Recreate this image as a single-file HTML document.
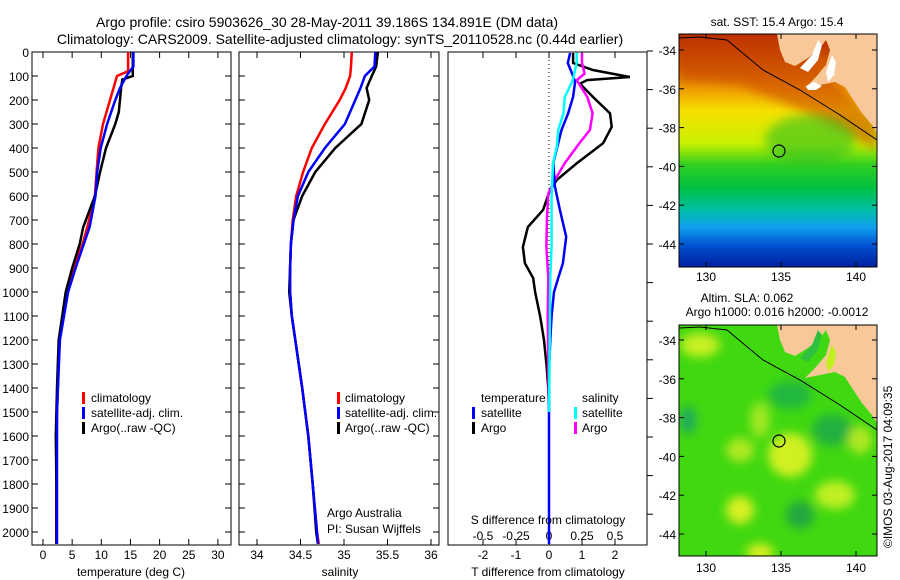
<!DOCTYPE html>
<html><head><meta charset="utf-8">
<style>
body{margin:0;background:#fff;}
svg{display:block;font-family:"Liberation Sans",sans-serif;}
text{fill:#000;}
</style></head>
<body>
<svg id="fig" width="900" height="580" viewBox="0 0 900 580">
<defs>
<linearGradient id="sstGrad" x1="0" y1="0" x2="0" y2="1">
<stop offset="0" stop-color="#b02000"/>
<stop offset="0.12" stop-color="#d05a00"/>
<stop offset="0.24" stop-color="#f0a000"/>
<stop offset="0.33" stop-color="#f6e000"/>
<stop offset="0.47" stop-color="#c8f000"/>
<stop offset="0.56" stop-color="#30d020"/>
<stop offset="0.66" stop-color="#00c040"/>
<stop offset="0.75" stop-color="#00c0a0"/>
<stop offset="0.83" stop-color="#10a0f0"/>
<stop offset="0.91" stop-color="#0050d0"/>
<stop offset="1" stop-color="#0020a0"/>
</linearGradient>
<filter id="blur6"><feGaussianBlur stdDeviation="5"/></filter>
<clipPath id="clipM1"><rect x="679" y="34" width="198" height="233"/></clipPath>
<clipPath id="clipM2"><rect x="679" y="325" width="198" height="231"/></clipPath>
</defs>

<text x="327" y="27" font-size="14" text-anchor="middle">Argo profile: csiro 5903626_30 28-May-2011 39.186S 134.891E (DM data)</text>
<text x="340" y="44" font-size="14" text-anchor="middle">Climatology: CARS2009. Satellite-adjusted climatology: synTS_20110528.nc (0.44d earlier)</text>

<g id="p1"></g>
<g id="p2"></g>
<g id="p3"></g>

<!-- Map 1 SST -->
<g>
<g clip-path="url(#clipM1)">
<rect x="679" y="34" width="198" height="233" fill="url(#sstGrad)"/>
<path d="M679,30 L780,30 L877,120 L877,150 L800,110 L740,85 L679,80Z" fill="#c84000" opacity="0.55" filter="url(#blur6)"/>
<ellipse cx="810" cy="140" rx="45" ry="25" fill="#30c020" opacity="0.6" filter="url(#blur6)"/>
<polygon points="777,34 780,50 785,62 795,66 808,58 820,48 826,40 830,50 826,65 815,78 805,88 820,85 835,82 845,87 852,98 862,113 872,125 877,133 877,34" fill="#f8c898"/>
<polygon points="800,68 812,55 818,40 822,45 818,60 808,72" fill="#fff"/>
<polygon points="826,72 832,55 836,62 834,75 828,82" fill="#fff"/>
<polygon points="806,86 814,82 822,86 816,90 808,90" fill="#fff"/>
<polyline points="679,38 700,37 727,40 745,55 763,70 800,90 840,115 877,140" fill="none" stroke="#000" stroke-width="1"/>
<circle cx="779" cy="151" r="6" fill="none" stroke="#000" stroke-width="1.2"/>
</g>
<rect x="679" y="34" width="198" height="233" fill="none" stroke="#000"/>
<text x="777" y="26" font-size="12" text-anchor="middle">sat. SST: 15.4 Argo: 15.4</text>
</g>

<!-- Map 2 SLA -->
<g>
<g clip-path="url(#clipM2)">
<rect x="679" y="325" width="198" height="231" fill="#40d810"/>
<g filter="url(#blur6)">
<ellipse cx="700" cy="345" rx="20" ry="12" fill="#c8f020"/>
<ellipse cx="790" cy="455" rx="22" ry="22" fill="#d0f020"/>
<ellipse cx="740" cy="450" rx="14" ry="12" fill="#b0e820"/>
<ellipse cx="740" cy="510" rx="14" ry="14" fill="#d8f020"/>
<ellipse cx="835" cy="495" rx="20" ry="14" fill="#c0f020"/>
<ellipse cx="760" cy="420" rx="10" ry="18" fill="#a0e820"/>
<ellipse cx="790" cy="395" rx="22" ry="14" fill="#20b840"/>
<ellipse cx="832" cy="430" rx="20" ry="16" fill="#20b040"/>
<ellipse cx="800" cy="515" rx="14" ry="14" fill="#20a840"/>
<ellipse cx="688" cy="420" rx="8" ry="14" fill="#20a860"/>
<ellipse cx="760" cy="552" rx="14" ry="8" fill="#e0f020"/>
<ellipse cx="860" cy="440" rx="12" ry="14" fill="#b0e820"/>
</g>
<polygon points="777,325 780,340 785,352 795,356 808,348 820,338 826,330 830,340 826,355 815,368 805,378 820,375 835,372 845,377 852,388 862,403 872,415 877,423 877,325" fill="#f8c898"/>
<polygon points="800,358 812,345 818,330 822,335 818,350 808,362" fill="#30c040"/>
<polygon points="826,362 832,345 836,352 834,365 828,372" fill="#c0f020"/>
<polyline points="679,328 700,327 727,330 745,345 763,360 800,380 840,405 877,430" fill="none" stroke="#000" stroke-width="1"/>
<circle cx="779" cy="441" r="6" fill="none" stroke="#000" stroke-width="1.2"/>
</g>
<rect x="679" y="325" width="198" height="231" fill="none" stroke="#000"/>
<text x="747" y="302" font-size="12" text-anchor="middle">Altim. SLA: 0.062</text>
<text x="777" y="316" font-size="12" text-anchor="middle">Argo h1000: 0.016 h2000: -0.0012</text>
<text transform="translate(892,548) rotate(-90)" font-size="12">©IMOS 03-Aug-2017 04:09:35</text>
</g>
<g id="maxes"></g>
</svg>
<script>
// ---- data ----
const depthTicks=[0,100,200,300,400,500,600,700,800,900,1000,1100,1200,1300,1400,1500,1600,1700,1800,1900,2000];
const tTicks=[0,5,10,15,20,25,30];
const sTicks=[34,34.5,35,35.5,36];
const tdTicks=[-2,-1,0,1,2];
const sdTickLabels=["-0.5","-0.25","0","0.25","0.5"];
const sdTicks=[-0.5,-0.25,0,0.25,0.5];

const climDepth=[0,80,100,200,300,400,500,600,730,800,900,1000,1200,1500,1800,2050];
const climT=[14.6,14.6,12.7,11.5,10.3,9.5,9.2,8.9,7.6,6.8,5.3,4.0,2.8,2.4,2.3,2.3];
const satDepth=[0,60,100,150,200,300,400,500,600,730,800,900,1000,1200,1500,2050];
const satT=[15.5,15.5,14.3,13.2,12.4,11.0,9.9,9.3,9.0,8.0,7.0,5.6,4.3,2.9,2.4,2.4];
const argoDepth=[0,100,115,150,250,300,400,500,600,730,800,900,1000,1100,1200,1400,1600,1800,2050];
const argoT=[15.4,15.4,13.6,13.4,13.0,12.4,10.8,9.8,8.9,6.9,6.3,5.0,3.9,3.3,2.7,2.4,2.2,2.3,2.3];

const sDepth=[0,60,100,150,200,300,400,500,600,700,800,900,1000,1100,1200,1400,1600,1800,2000,2050];
const climS=[35.09,35.08,35.07,35.02,34.95,34.78,34.63,34.53,34.45,34.41,34.39,34.38,34.38,34.40,34.44,34.52,34.59,34.64,34.69,34.71];
const satS=[35.36,35.35,35.24,35.19,35.13,35.01,34.78,34.59,34.47,34.42,34.39,34.38,34.38,34.40,34.44,34.52,34.59,34.64,34.69,34.70];
const argoS=[35.39,35.37,35.32,35.26,35.29,35.20,34.90,34.67,34.52,34.42,34.39,34.38,34.37,34.40,34.44,34.52,34.59,34.64,34.68,34.70];

const dTDepth=[4,46,75,104,117,132,187,256,312,380,463,533,575,658,729,812,880,942,1000,1100,1200,1300,1400,1500];
const dTArgo=[0.73,0.73,1.33,2.45,1.15,0.94,1.33,1.85,1.9,1.64,0.85,0.24,0.03,-0.18,-0.64,-0.79,-0.73,-0.48,-0.42,-0.27,-0.15,-0.08,-0.02,0];
const dTSatDepth=[4,46,90,125,187,256,325,463,560,658,770,880,942,1000,1100,1200,1300,1500,2050];
const dTSat=[0.64,0.57,0.7,0.79,0.73,0.58,0.38,0.13,0.18,0.33,0.52,0.42,0.28,0.15,0.08,0.04,0.01,0,0];
const dSDepth=[4,46,90,117,187,256,325,380,463,533,590,686,812,942,1100,1300,1500];
const dSArgo=[0.25,0.25,0.27,0.21,0.29,0.33,0.31,0.23,0.12,0.045,-0.005,-0.015,-0.02,-0.005,-0.01,-0.005,0];
const dSSatDepth=[4,46,117,187,256,325,394,463,600,800,942,1200,1500];
const dSSat=[0.21,0.21,0.18,0.12,0.11,0.07,0.06,0.03,0.02,0.02,0.01,0.005,0];

const latTicks=[-34,-36,-38,-40,-42,-44];
const lonTicks=[130,135,140];

// ---- axes ----
const NS='http://www.w3.org/2000/svg';
function mk(tag,attrs,parent){const e=document.createElementNS(NS,tag);for(const k in attrs)e.setAttribute(k,attrs[k]);parent.appendChild(e);return e;}
const yD=d=>52+d*0.24;
const xT=t=>43+t*5.83;
const xS=s=>257+(s-34)*87;
const xDT=t=>549+t*33;
const xDS=s=>549+s*132;
const TOP=52,BOT=545;

function frame(g,x0,x1){
  const r=mk('rect',{x:x0,y:TOP,width:x1-x0,height:BOT-TOP,fill:'none',stroke:'#000','stroke-width':1},g);
  
  
}
function yTicks(g,x0,x1,labels){
  depthTicks.forEach(d=>{
    const y=yD(d);
    mk('line',{x1:x0,x2:x0+6,y1:y,y2:y,stroke:'#000'},g);
    mk('line',{x1:x1-6,x2:x1,y1:y,y2:y,stroke:'#000'},g);
    if(labels){const t=mk('text',{x:x0-3,y:y+5,'font-size':12,'text-anchor':'end'},g);t.textContent=d;
      
      }
  });
}
function xTicks(g,ticks,fx,labels,ly){
  ticks.forEach((v,i)=>{
    const x=fx(v);
    mk('line',{x1:x,x2:x,y1:BOT-6,y2:BOT,stroke:'#000'},g);
    mk('line',{x1:x,x2:x,y1:TOP,y2:TOP+6,stroke:'#000'},g);
    const t=mk('text',{x:x,y:ly,'font-size':12,'text-anchor':'middle'},g);t.textContent=labels?labels[i]:v;
    
    
  });
}
function line(g,xs,ds,fx,color,name){
  const pts=xs.map((v,i)=>fx(v).toFixed(1)+','+yD(ds[i]).toFixed(1)).join(' ');
  const p=mk('polyline',{points:pts,fill:'none',stroke:color,'stroke-width':2.5,'stroke-linejoin':'miter'},g);
  
  
}
function label(g,x,y,txt,name,anchor){
  const t=mk('text',{x:x,y:y,'font-size':12,'text-anchor':anchor||'start'},g);t.textContent=txt;
  
  
}
function legendBar(g,x,y,color){
  const r=mk('rect',{x:x,y:y-10,width:3,height:12,fill:color},g);
  
  
}

// Panel 1
const p1=document.getElementById('p1');
frame(p1,32,231);yTicks(p1,32,231,true);xTicks(p1,tTicks,xT,null,559);
line(p1,climT,climDepth,xT,'#f00','temp-climatology-line');
line(p1,argoT,argoDepth,xT,'#000','temp-argo-line');
line(p1,satT,satDepth,xT,'#00f','temp-satellite-line');
label(p1,131,576,'temperature (deg C)','temperature-axis-title','middle');
legendBar(p1,82,402,'#f00');label(p1,91,402,'climatology','legend-climatology');
legendBar(p1,82,417,'#00f');label(p1,91,417,'satellite-adj. clim.','legend-satellite');
legendBar(p1,82,432,'#000');label(p1,91,432,'Argo(..raw -QC)','legend-argo');

// Panel 2
const p2=document.getElementById('p2');
frame(p2,239,439);yTicks(p2,239,439,false);xTicks(p2,sTicks,xS,null,559);
line(p2,climS,sDepth,xS,'#f00','sal-climatology-line');
line(p2,argoS,sDepth,xS,'#000','sal-argo-line');
line(p2,satS,sDepth,xS,'#00f','sal-satellite-line');
label(p2,340,576,'salinity','salinity-axis-title','middle');
legendBar(p2,337,402,'#f00');label(p2,345,402,'climatology','legend-climatology');
legendBar(p2,337,417,'#00f');label(p2,345,417,'satellite-adj. clim.','legend-satellite');
legendBar(p2,337,432,'#000');label(p2,345,432,'Argo(..raw -QC)','legend-argo');
label(p2,327,517,'Argo Australia','pi-institution');
label(p2,327,533,'PI: Susan Wijffels','pi-name');

// Panel 3
const p3=document.getElementById('p3');
frame(p3,448,647);
for(let y=51;y<=BOT;y+=38.6){mk('line',{x1:647,x2:653,y1:y,y2:y,stroke:'#000'},p3);}
mk('line',{x1:549,x2:549,y1:TOP,y2:BOT,stroke:'#000','stroke-dasharray':'1,3'},p3);
xTicks(p3,tdTicks,xDT,null,559);
sdTicks.forEach((v,i)=>{const t=mk('text',{x:xDS(v),y:540,'font-size':12,'text-anchor':'middle'},p3);t.textContent=sdTickLabels[i];
  
  });
line(p3,dTArgo,dTDepth,xDT,'#000','tdiff-argo-line');
line(p3,dSArgo,dSDepth,xDS,'#f0f','sdiff-argo-line');
line(p3,dTSat,dTSatDepth,xDT,'#00f','tdiff-satellite-line');
line(p3,dSSat,dSSatDepth,xDS,'#0ff','sdiff-satellite-line');
label(p3,548,524,'S difference from climatology','s-diff-axis-title','middle');
label(p3,548,576,'T difference from climatology','t-diff-axis-title','middle');
label(p3,481,402,'temperature','legend-temperature-header');
legendBar(p3,472,417,'#00f');label(p3,481,417,'satellite','legend-t-satellite');
legendBar(p3,472,432,'#000');label(p3,481,432,'Argo','legend-t-argo');
label(p3,582,402,'salinity','legend-salinity-header');
legendBar(p3,574,417,'#0ff');label(p3,582,417,'satellite','legend-s-satellite');
legendBar(p3,574,432,'#f0f');label(p3,582,432,'Argo','legend-s-argo');

// Map axes
const ma=document.getElementById('maxes');
const lonX=l=>706+(l-130)*15;
[[50,34,267,281],[340,325,556,572]].forEach(([y34,top,bot,ly])=>{
  latTicks.forEach(lat=>{
    const y=y34+(-34-lat)*19.4;
    mk('line',{x1:679,x2:684,y1:y,y2:y,stroke:'#000'},ma);
    mk('line',{x1:872,x2:877,y1:y,y2:y,stroke:'#000'},ma);
    const t=mk('text',{x:676,y:y+5,'font-size':12,'text-anchor':'end'},ma);t.textContent=lat;
    
    
  });
  lonTicks.forEach(lon=>{
    const x=lonX(lon);
    mk('line',{x1:x,x2:x,y1:top,y2:top+5,stroke:'#000'},ma);
    mk('line',{x1:x,x2:x,y1:bot-5,y2:bot,stroke:'#000'},ma);
    const t=mk('text',{x:x,y:ly,'font-size':12,'text-anchor':'middle'},ma);t.textContent=lon;
    
    
  });
});
</script>
</body></html>
